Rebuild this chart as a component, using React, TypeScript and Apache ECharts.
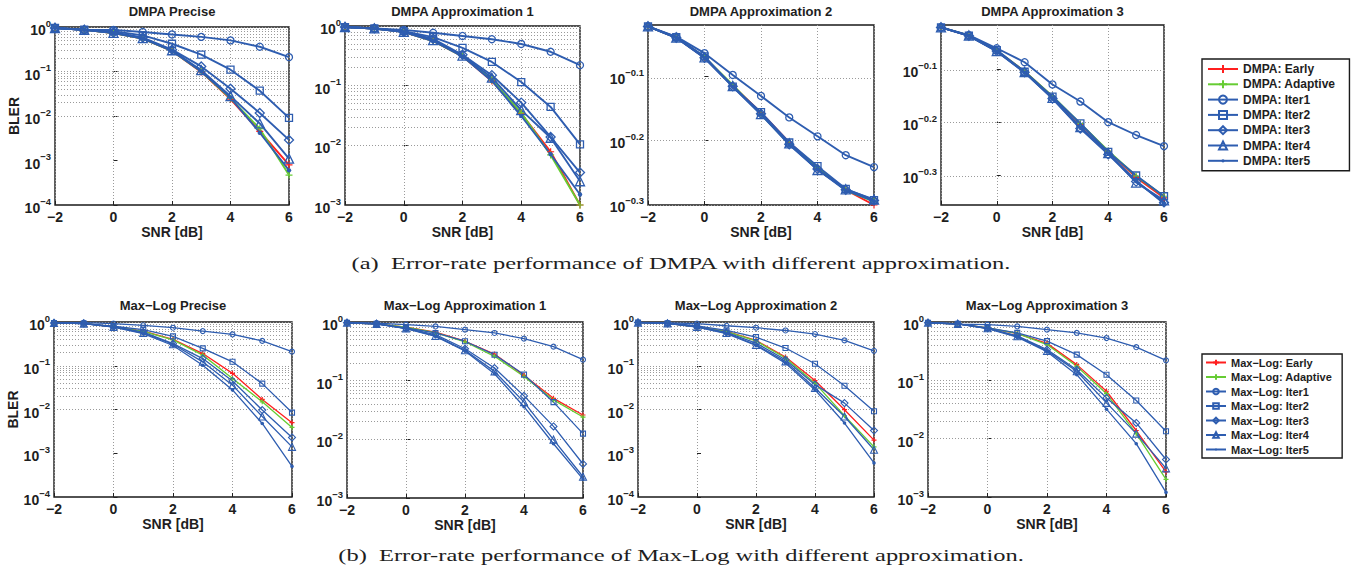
import React, { useEffect, useRef } from 'react';
import * as echarts from 'echarts';

// ---------------- data ----------------
const snr = [-2, -1, 0, 1, 2, 3, 4, 5, 6];
const curveNames = ['Early', 'Adaptive', 'Iter1', 'Iter2', 'Iter3', 'Iter4', 'Iter5'];

// order in every panel: Early, Adaptive, Iter1, Iter2, Iter3, Iter4, Iter5
const dmpaPrecise = [
  [0.95, 0.86, 0.73, 0.55, 0.29, 0.098, 0.024, 0.0045, 0.0008],
  [0.95, 0.86, 0.73, 0.55, 0.29, 0.1, 0.025, 0.0052, 0.00047],
  [0.95, 0.87, 0.86, 0.77, 0.68, 0.6, 0.5, 0.36, 0.21],
  [0.95, 0.87, 0.8, 0.65, 0.42, 0.24, 0.11, 0.037, 0.0091],
  [0.95, 0.86, 0.75, 0.58, 0.31, 0.13, 0.041, 0.0117, 0.0029],
  [0.95, 0.86, 0.74, 0.56, 0.3, 0.107, 0.028, 0.0068, 0.0011],
  [0.95, 0.86, 0.73, 0.55, 0.29, 0.1, 0.026, 0.0042, 0.0006],
];
const dmpaApprox1 = [
  [0.96, 0.91, 0.8, 0.56, 0.31, 0.12, 0.034, 0.0078, 0.001],
  [0.96, 0.91, 0.8, 0.56, 0.31, 0.125, 0.035, 0.0069, 0.001],
  [0.96, 0.91, 0.86, 0.77, 0.68, 0.6, 0.5, 0.37, 0.22],
  [0.96, 0.91, 0.82, 0.65, 0.43, 0.25, 0.115, 0.044, 0.0104],
  [0.96, 0.91, 0.8, 0.61, 0.33, 0.15, 0.052, 0.0138, 0.0035],
  [0.96, 0.91, 0.8, 0.58, 0.32, 0.136, 0.039, 0.0134, 0.0025],
  [0.96, 0.91, 0.79, 0.56, 0.31, 0.12, 0.031, 0.0071, 0.0015],
];
const dmpaApprox2 = [
  [0.95, 0.913, 0.85, 0.768, 0.697, 0.626, 0.571, 0.528, 0.5],
  [0.95, 0.913, 0.851, 0.77, 0.693, 0.623, 0.572, 0.527, 0.506],
  [0.95, 0.916, 0.863, 0.798, 0.74, 0.685, 0.64, 0.598, 0.573],
  [0.95, 0.914, 0.853, 0.765, 0.698, 0.626, 0.575, 0.53, 0.509],
  [0.95, 0.912, 0.849, 0.766, 0.694, 0.622, 0.569, 0.528, 0.508],
  [0.95, 0.913, 0.85, 0.767, 0.693, 0.624, 0.567, 0.529, 0.51],
  [0.95, 0.912, 0.848, 0.765, 0.692, 0.621, 0.568, 0.527, 0.507],
];
const dmpaApprox3 = [
  [0.951, 0.918, 0.86, 0.786, 0.705, 0.625, 0.556, 0.497, 0.455],
  [0.951, 0.919, 0.861, 0.786, 0.706, 0.627, 0.557, 0.5, 0.458],
  [0.951, 0.92, 0.869, 0.818, 0.743, 0.69, 0.631, 0.597, 0.569],
  [0.951, 0.918, 0.862, 0.785, 0.705, 0.628, 0.555, 0.501, 0.458],
  [0.951, 0.917, 0.859, 0.783, 0.699, 0.614, 0.549, 0.488, 0.446],
  [0.951, 0.918, 0.858, 0.784, 0.701, 0.618, 0.552, 0.486, 0.45],
  [0.951, 0.917, 0.857, 0.782, 0.7, 0.616, 0.551, 0.49, 0.444],
];
const maxlogPrecise = [
  [0.95, 0.93, 0.77, 0.62, 0.4, 0.19, 0.067, 0.017, 0.005],
  [0.95, 0.93, 0.77, 0.61, 0.39, 0.175, 0.051, 0.015, 0.0039],
  [0.97, 0.97, 0.92, 0.84, 0.74, 0.62, 0.52, 0.37, 0.21],
  [0.95, 0.92, 0.8, 0.67, 0.47, 0.25, 0.123, 0.039, 0.0085],
  [0.95, 0.92, 0.78, 0.59, 0.32, 0.146, 0.045, 0.0097, 0.0023],
  [0.95, 0.92, 0.77, 0.56, 0.31, 0.123, 0.036, 0.0069, 0.0014],
  [0.95, 0.92, 0.76, 0.54, 0.29, 0.103, 0.028, 0.0048, 0.0005],
];
const maxlogApprox1 = [
  [0.97, 0.93, 0.82, 0.67, 0.47, 0.285, 0.123, 0.05, 0.026],
  [0.97, 0.93, 0.82, 0.66, 0.46, 0.26, 0.118, 0.047, 0.024],
  [0.98, 0.96, 0.9, 0.84, 0.74, 0.65, 0.52, 0.38, 0.228],
  [0.97, 0.93, 0.79, 0.65, 0.47, 0.277, 0.127, 0.043, 0.0125],
  [0.97, 0.93, 0.78, 0.61, 0.35, 0.164, 0.055, 0.0166, 0.0038],
  [0.97, 0.93, 0.78, 0.58, 0.33, 0.144, 0.043, 0.0099, 0.0023],
  [0.97, 0.93, 0.77, 0.57, 0.32, 0.131, 0.036, 0.0084, 0.0021],
];
const maxlogApprox2 = [
  [0.97, 0.93, 0.77, 0.61, 0.38, 0.158, 0.046, 0.0099, 0.002],
  [0.97, 0.93, 0.77, 0.6, 0.37, 0.15, 0.04, 0.0072, 0.0014],
  [0.98, 0.95, 0.92, 0.82, 0.74, 0.64, 0.53, 0.38, 0.22],
  [0.97, 0.94, 0.82, 0.64, 0.45, 0.254, 0.111, 0.035, 0.0091],
  [0.97, 0.93, 0.78, 0.58, 0.33, 0.137, 0.037, 0.014, 0.0033],
  [0.97, 0.93, 0.77, 0.56, 0.3, 0.126, 0.031, 0.0069, 0.0012],
  [0.97, 0.93, 0.76, 0.54, 0.29, 0.115, 0.028, 0.0049, 0.0006],
];
const maxlogApprox3 = [
  [0.97, 0.93, 0.79, 0.63, 0.43, 0.186, 0.065, 0.0138, 0.0027],
  [0.97, 0.93, 0.79, 0.64, 0.41, 0.174, 0.059, 0.0122, 0.002],
  [0.98, 0.92, 0.9, 0.84, 0.74, 0.65, 0.53, 0.37, 0.22],
  [0.97, 0.93, 0.79, 0.65, 0.47, 0.276, 0.125, 0.045, 0.0134],
  [0.97, 0.93, 0.78, 0.58, 0.336, 0.152, 0.05, 0.0186, 0.0044],
  [0.97, 0.93, 0.78, 0.57, 0.32, 0.143, 0.041, 0.0122, 0.0031],
  [0.97, 0.93, 0.77, 0.55, 0.31, 0.125, 0.032, 0.0082, 0.0012],
];

const panelTitles = [
  'DMPA Precise', 'DMPA Approximation 1', 'DMPA Approximation 2', 'DMPA Approximation 3',
  'Max\u2212Log Precise', 'Max\u2212Log Approximation 1', 'Max\u2212Log Approximation 2', 'Max\u2212Log Approximation 3',
];
const panelData = [dmpaPrecise, dmpaApprox1, dmpaApprox2, dmpaApprox3, maxlogPrecise, maxlogApprox1, maxlogApprox2, maxlogApprox3];
const yMins = [1e-4, 1e-3, 0.5, 0.441, 1e-4, 1e-3, 1e-4, 1e-3];
const yMaxs = [1, 1, 0.955, 0.961, 1, 1, 1, 1];
const fineExponents = [-0.3, -0.2, -0.1];
const captions = [
  '(a)  Error-rate performance of DMPA with different approximation.',
  '(b)  Error-rate performance of Max-Log with different approximation.',
];

// ---------------- layout / style ----------------
const layout = [
  { left: 55, top: 27, width: 234, height: 178 },
  { left: 345, top: 26, width: 235, height: 179 },
  { left: 648, top: 25, width: 226, height: 180 },
  { left: 941, top: 25, width: 223, height: 180 },
  { left: 54, top: 322, width: 238, height: 175 },
  { left: 347, top: 322, width: 236, height: 176 },
  { left: 638, top: 322, width: 236, height: 175 },
  { left: 928, top: 322, width: 238, height: 175 },
];
const captionY = [264, 556];
const FONT = '"Liberation Sans", Arial, Helvetica, sans-serif';
const TXT = '#1e1e1e';
const BLUE = '#2E5DB0';
const RED = '#FF1F1F';
const GREEN = '#66CC33';
const PLUS = 'path://M0,5L10,5M5,0L5,10';
const DOT = 'path://M0,0M10,10M3,5A2,2,0,1,1,7,5A2,2,0,1,1,3,5Z';

const minus = (s: string) => s.replace('-', '\u2212');

function decadeTicks(min: number, max: number) {
  const out: number[] = [];
  for (let e = Math.round(Math.log10(min)); e <= Math.round(Math.log10(max)); e++) out.push(Math.pow(10, e));
  return out;
}
function minorTicks(min: number, max: number) {
  const out: number[] = [];
  for (let e = Math.round(Math.log10(min)); e < Math.round(Math.log10(max)); e++) {
    for (let k = 2; k <= 9; k++) out.push(k * Math.pow(10, e));
  }
  return out;
}

function buildOption() {
  const grids: any[] = [];
  const xAxes: any[] = [];
  const yAxes: any[] = [];
  const series: any[] = [];
  const titles: any[] = [];

  panelData.forEach((pdata, p) => {
    const L = layout[p];
    const top = p < 4;
    const decade = yMins[p] < 0.1;
    const majors = decade ? decadeTicks(yMins[p], yMaxs[p]) : fineExponents.map((e) => Math.pow(10, e));
    const gridVals = decade ? majors.concat(minorTicks(yMins[p], yMaxs[p])) : majors;

    grids.push({ ...L, show: true, borderColor: '#1a1a1a', borderWidth: 1.4, backgroundColor: '#fff', containLabel: false });
    titles.push({
      text: panelTitles[p], left: L.left + L.width / 2, top: top ? 5 : 299, textAlign: 'center', padding: 0,
      textStyle: { fontFamily: FONT, fontSize: 13, fontWeight: 'bold', color: TXT },
    });
    xAxes.push({
      type: 'value', gridIndex: p, min: -2, max: 6, interval: 2,
      name: 'SNR [dB]', nameLocation: 'middle', nameGap: 16,
      nameTextStyle: { fontFamily: FONT, fontSize: 14, fontWeight: 'bold', color: TXT },
      axisLine: { show: false },
      axisTick: { show: true, inside: true, length: 4, lineStyle: { color: '#222' } },
      axisLabel: {
        margin: 5, fontFamily: FONT, fontSize: 14, fontWeight: 'bold', color: TXT,
        formatter: (v: number) => minus(String(v)),
      },
      splitLine: { show: true, lineStyle: { color: '#9a9a9a', type: [1, 2], width: 1 } },
    });
    yAxes.push({
      type: 'log', logBase: 10, gridIndex: p, min: yMins[p], max: yMaxs[p],
      name: p === 0 || p === 4 ? 'BLER' : '', nameLocation: 'middle', nameGap: 34, nameRotate: 90,
      nameTextStyle: { fontFamily: FONT, fontSize: 14, fontWeight: 'bold', color: TXT },
      axisLine: { show: false },
      axisTick: { show: true, inside: true, length: 4, customValues: majors, lineStyle: { color: '#222' } },
      splitLine: { show: false },
      axisLabel: {
        customValues: majors, margin: 4,
        formatter: (v: number) => {
          const e = Math.round(Math.log10(v) * 10) / 10;
          return `{b|10}{s|${minus(String(e))}}`;
        },
        rich: {
          b: { fontFamily: FONT, fontSize: 14, fontWeight: 'bold', color: TXT, verticalAlign: 'bottom', padding: [6, 0, 0, 0] },
          s: { fontFamily: FONT, fontSize: 9.5, fontWeight: 'bold', color: TXT, verticalAlign: 'bottom', padding: [0, 0, 9, 0] },
        },
      },
    });

    // grid lines (major + minor) through the axis scale
    series.push({
      type: 'line', name: '_grid' + p, xAxisIndex: p, yAxisIndex: p, data: [], silent: true, z: 1,
      markLine: {
        silent: true, z: 1, symbol: ['none', 'none'], label: { show: false },
        lineStyle: { color: '#9a9a9a', type: [1, 2], width: 1 }, emphasis: { disabled: true },
        data: gridVals.map((v) => ({ yAxis: v })),
      },
    });

    const prefix = top ? 'DMPA: ' : 'Max\u2212Log: ';
    const lw = top ? 1.9 : 1.3;
    const sz = top ? 7 : 5;
    pdata.forEach((vals, s) => {
      let symbol: string = 'circle';
      let symbolSize = sz;
      let itemStyle: any = { color: 'rgba(0,0,0,0)', borderColor: BLUE, borderWidth: top ? 1.3 : 1.1 };
      let color = BLUE;
      if (s === 0 || s === 1) {
        color = s === 0 ? RED : GREEN;
        symbol = PLUS;
        symbolSize = top ? 7 : 5;
        itemStyle = { color, borderColor: color, borderWidth: 1.2 };
      } else if (s === 2) symbol = 'circle';
      else if (s === 3) symbol = 'rect';
      else if (s === 4) { symbol = 'diamond'; symbolSize = sz + 2; }
      else if (s === 5) { symbol = 'triangle'; symbolSize = sz + 2; }
      else if (s === 6) { symbol = DOT; symbolSize = top ? 11 : 9; itemStyle = { color: BLUE, borderColor: BLUE, borderWidth: 0 }; }
      series.push({
        type: 'line', name: prefix + curveNames[s], xAxisIndex: p, yAxisIndex: p, z: 10,
        data: snr.map((x, i) => [x, vals[i]]),
        symbol, symbolSize, showSymbol: true, clip: true,
        lineStyle: { color, width: lw },
        itemStyle,
        emphasis: { disabled: true },
      });
    });
  });

  const graphic = captions.map((c, i) => ({
    type: 'text', x: 681, y: captionY[i], scaleX: 1.53, silent: true,
    style: {
      text: c, fill: TXT, textAlign: 'center', textVerticalAlign: 'middle', verticalAlign: 'middle',
      fontFamily: '"Liberation Serif", "Times New Roman", serif', fontSize: 16, fontWeight: 'normal',
    },
  }));

  const legendCommon = {
    orient: 'vertical', left: 1202, backgroundColor: '#fff', borderColor: '#1a1a1a', borderWidth: 1.4,
    selectedMode: false,
  };
  const legends = [
    {
      ...legendCommon, top: 59, padding: [4, 14, 4, 5], itemWidth: 30, itemHeight: 10, itemGap: 3.3,
      data: curveNames.map((n) => 'DMPA: ' + n),
      textStyle: { fontFamily: FONT, fontSize: 12, fontWeight: 'bold', color: TXT, lineHeight: 12 },
    },
    {
      ...legendCommon, top: 354, padding: [3, 10, 3, 3], itemWidth: 20, itemHeight: 7, itemGap: 3.5,
      data: curveNames.map((n) => 'Max\u2212Log: ' + n),
      textStyle: { fontFamily: FONT, fontSize: 11, fontWeight: 'bold', color: TXT, lineHeight: 11 },
    },
  ];

  return {
    animation: false,
    backgroundColor: '#fff',
    textStyle: { fontFamily: FONT },
    title: titles,
    grid: grids,
    xAxis: xAxes,
    yAxis: yAxes,
    legend: legends,
    graphic,
    series,
  };
}

export default function App() {
  const ref = useRef<HTMLDivElement>(null);
  useEffect(() => {
    if (!ref.current) return;
    const chart = echarts.init(ref.current, null, { renderer: 'svg' });
    chart.setOption(buildOption() as any);
    return () => chart.dispose();
  }, []);
  return (
    <div
      ref={ref}
      style={{ position: 'absolute', left: 0, top: 0, width: 1364, height: 572, background: '#fff' }}
    />
  );
}
